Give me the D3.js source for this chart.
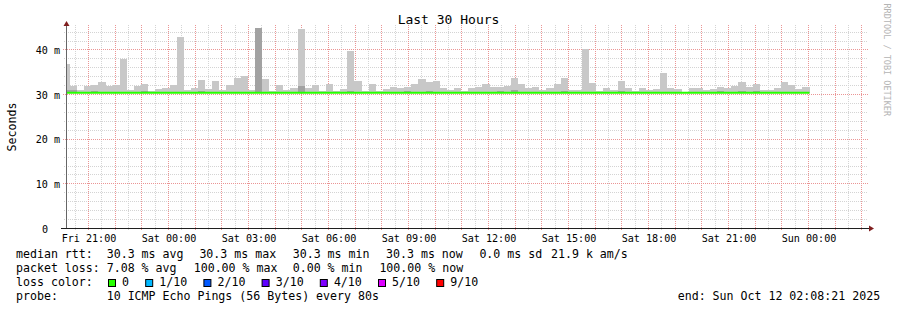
<!DOCTYPE html>
<html>
<head>
<meta charset="utf-8">
<script src="https://cdn.jsdelivr.net/npm/d3@7"></script>
<style>
  body { margin: 0; background: #fff; }
  svg { display: block; font-family: "DejaVu Sans Mono", monospace; }
</style>
</head>
<body>
<svg id="chart"></svg>
<script>
// ---- data ----
const chartTitle = "Last 30 Hours";
const yTitle = "Seconds";
const yTicks = [0, 10, 20, 30, 40];

// smoke bars, one every 16 min, first one is cut by the left edge
const barStart = new Date(2025, 9, 10, 20, 3, 30);
const barStepMin = 16;

// top of the light smoke (ms)
const smokeMax = [
  36.7, 31.9, 31.0, 31.9, 32.1, 32.7, 31.9, 32.1, 37.9, 31.0,
  31.9, 32.3, 30.6, 31.2, 31.4, 32.1, 42.7, 31.0, 31.4, 33.2,
  31.2, 33.0, 31.0, 32.1, 33.6, 34.1, 31.0, 44.7, 33.4, 30.6,
  32.1, 31.0, 31.4, 44.5, 31.4, 32.1, 30.7, 32.3, 30.6, 31.2,
  39.7, 33.0, 30.7, 32.3, 30.6, 31.2, 31.6, 31.4, 31.6, 32.3,
  33.4, 32.7, 33.0, 31.4, 31.0, 31.4, 30.7, 31.4, 31.6, 32.3,
  31.6, 31.6, 31.9, 33.6, 32.3, 31.4, 31.6, 31.0, 31.4, 32.3,
  33.6, 31.0, 31.0, 40.1, 32.5, 30.7, 31.4, 31.0, 33.0, 31.4,
  30.7, 31.4, 31.0, 31.2, 34.7, 31.4, 31.2, 30.5, 31.4, 31.4,
  31.0, 31.2, 31.6, 31.4, 31.9, 32.7, 31.6, 32.3, 31.0, 31.0,
  31.4, 32.7, 32.1, 31.2, 31.6
];

// top of the darker inner smoke (ms)
const smokeInner = [
  31.0, 31.0, 30.3, 30.3, 30.8, 30.3, 30.3, 30.3, 30.3, 30.3,
  30.3, 30.8, 30.3, 30.3, 30.3, 30.3, 30.3, 30.3, 30.3, 30.8,
  30.3, 30.3, 30.3, 30.3, 30.3, 30.3, 30.3, 44.7, 30.3, 30.3,
  30.3, 30.3, 30.3, 31.8, 30.3, 30.3, 30.3, 30.3, 30.3, 30.3,
  30.8, 30.3, 30.3, 30.3, 30.3, 30.3, 30.3, 30.3, 30.8, 30.3,
  30.3, 30.8, 30.3, 30.3, 30.3, 30.3, 30.3, 30.3, 30.3, 30.3,
  30.3, 30.8, 30.3, 31.0, 30.3, 30.3, 30.3, 30.3, 30.3, 30.3,
  30.8, 30.3, 30.3, 30.3, 30.3, 30.3, 30.3, 30.3, 30.8, 30.3,
  30.3, 30.3, 30.3, 30.3, 30.3, 30.3, 30.3, 30.3, 30.3, 30.3,
  30.3, 30.3, 30.8, 30.3, 30.3, 30.8, 30.3, 30.8, 30.3, 30.3,
  30.3, 30.3, 30.3, 30.3, 30.3
];

// median rtt (ms), all with 0 loss
const medianRtt = [
  30.3, 30.3, 30.3, 30.3, 30.3, 30.3, 30.3, 30.3, 30.3, 30.3,
  30.3, 30.3, 30.3, 30.3, 30.3, 30.3, 30.3, 30.3, 30.3, 30.3,
  30.3, 30.3, 30.3, 30.3, 30.3, 30.3, 30.3, 30.3, 30.3, 30.3,
  30.3, 30.3, 30.3, 30.3, 30.3, 30.3, 30.3, 30.3, 30.3, 30.3,
  30.3, 30.3, 30.3, 30.3, 30.3, 30.3, 30.3, 30.3, 30.3, 30.3,
  30.3, 30.3, 30.3, 30.3, 30.3, 30.3, 30.3, 30.3, 30.3, 30.3,
  30.3, 30.3, 30.3, 30.3, 30.3, 30.3, 30.3, 30.3, 30.3, 30.3,
  30.3, 30.3, 30.3, 30.3, 30.3, 30.3, 30.3, 30.3, 30.3, 30.3,
  30.3, 30.3, 30.3, 30.3, 30.3, 30.3, 30.3, 30.3, 30.3, 30.3,
  30.3, 30.3, 30.3, 30.3, 30.3, 30.3, 30.3, 30.3, 30.3, 30.3,
  30.3, 30.3, 30.3, 30.3, 30.3
];

const lossLabels = ["0", "1/10", "2/10", "3/10", "4/10", "5/10", "9/10"];
const lossColors = ["#26ff00", "#00b8ff", "#0059ff", "#5e00ff", "#7e00ff", "#dd00ff", "#ff0000"];

const rttRow = ["median rtt:", "30.3 ms avg", "30.3 ms max", "30.3 ms min", "30.3 ms now", "0.0 ms sd", "21.9 k am/s"];
const lossRow = ["packet loss:", "7.08 % avg", "100.00 % max", "0.00 % min", "100.00 % now"];
const probeText = "10 ICMP Echo Pings (56 Bytes) every 80s";
const endText = "end: Sun Oct 12 02:08:21 2025";

// ---- layout ----
let config = {
  width: 897, height: 310,
  left: 66, right: 866, top: 24, bottom: 228
};

let svg = d3.select("#chart")
  .attr("width", config.width)
  .attr("height", config.height);

svg.append("rect").attr("width", config.width).attr("height", config.height).style("fill", "#fff");

let x = d3.scaleTime()
  .domain([new Date(2025, 9, 10, 20, 10, 30), new Date(2025, 9, 12, 2, 10, 30)])
  .range([config.left, config.right]);

let y = d3.scaleLinear()
  .domain([0, 45.7])
  .range([config.bottom, config.top]);

const px = v => Math.round(v) + 0.5;

let bars = smokeMax.map((v, i) => {
  let t0 = d3.timeMinute.offset(barStart, i * barStepMin);
  return { t0: t0, t1: d3.timeMinute.offset(t0, barStepMin), max: v, inner: smokeInner[i], med: medianRtt[i] };
});

svg.append("defs").append("clipPath").attr("id", "plotclip")
  .append("rect")
  .attr("x", config.left + 1).attr("y", 0)
  .attr("width", config.right - config.left).attr("height", config.bottom);

// grid (dotted, minor grey every 30 min / 2 ms, major red every hour / 10 ms)
let grid = svg.append("g").attr("id", "grid");
const minorCol = "#d4d4d4", majorCol = "#eb9595";

let hours = d3.timeHour.range(x.domain()[0], x.domain()[1]);
let halfHours = d3.timeMinute.every(30).range(x.domain()[0], x.domain()[1]).filter(d => d.getMinutes() !== 0);

grid.selectAll("line.vminor").data(halfHours).enter().append("line")
  .attr("x1", d => px(x(d))).attr("x2", d => px(x(d)))
  .attr("y1", config.top + 1).attr("y2", config.bottom + 2)
  .style("stroke", minorCol).style("stroke-dasharray", "1,1");

let minorY = d3.range(2, 45, 2).filter(v => v % 10 !== 0);
grid.selectAll("line.hminor").data(minorY).enter().append("line")
  .attr("x1", config.left - 2).attr("x2", config.right + 2)
  .attr("y1", d => px(y(d))).attr("y2", d => px(y(d)))
  .style("stroke", minorCol).style("stroke-dasharray", "1,1");

grid.selectAll("line.vmajor").data(hours).enter().append("line")
  .attr("x1", d => px(x(d))).attr("x2", d => px(x(d)))
  .attr("y1", config.top + 1).attr("y2", config.bottom + 3)
  .style("stroke", majorCol).style("stroke-dasharray", "1,1");

grid.selectAll("line.hmajor").data(yTicks.filter(v => v > 0)).enter().append("line")
  .attr("x1", config.left - 3).attr("x2", config.right + 2)
  .attr("y1", d => px(y(d))).attr("y2", d => px(y(d)))
  .style("stroke", majorCol).style("stroke-dasharray", "1,1");

// smoke
let smoke = svg.append("g").attr("clip-path", "url(#plotclip)");
smoke.selectAll("rect.outer").data(bars).enter().append("rect")
  .attr("x", d => x(d.t0))
  .attr("width", d => x(d.t1) - x(d.t0))
  .attr("y", d => y(d.max))
  .attr("height", d => y(d.med) - y(d.max))
  .attr("shape-rendering", "crispEdges")
  .style("fill", "#c8c8c8");

smoke.selectAll("rect.inner").data(bars.filter(d => d.inner > d.med)).enter().append("rect")
  .attr("x", d => x(d.t0))
  .attr("width", d => x(d.t1) - x(d.t0))
  .attr("y", d => y(d.inner))
  .attr("height", d => y(d.med) - y(d.inner))
  .attr("shape-rendering", "crispEdges")
  .style("fill", "#a2a2a2");

// median line
let medLine = d3.line()
  .x(d => x(d.t))
  .y(d => y(d.v))
  .curve(d3.curveStepAfter);
let medPts = bars.map(d => ({ t: d.t0, v: d.med }));
medPts.push({ t: bars[bars.length - 1].t1, v: bars[bars.length - 1].med });
smoke.append("path")
  .attr("d", medLine(medPts))
  .style("fill", "none")
  .style("stroke", lossColors[0])
  .style("stroke-width", 2);

// axes
svg.append("line")
  .attr("x1", px(config.left)).attr("x2", px(config.left))
  .attr("y1", config.top + 2).attr("y2", config.bottom + 1)
  .style("stroke", "#666");
svg.append("line")
  .attr("x1", config.left - 5).attr("x2", config.right + 3)
  .attr("y1", px(config.bottom)).attr("y2", px(config.bottom))
  .style("stroke", "#1f1f1f");

svg.append("path")
  .attr("d", `M${px(config.left)},${config.top - 3} L${px(config.left) - 3},${config.top + 2} L${px(config.left) + 3},${config.top + 2} Z`)
  .style("fill", "#801f1f");
svg.append("path")
  .attr("d", `M${config.right + 8},${px(config.bottom)} L${config.right + 3},${px(config.bottom) - 3} L${config.right + 3},${px(config.bottom) + 3} Z`)
  .style("fill", "#801f1f");

// x tick labels
let xaxis = d3.axisBottom(x)
  .tickValues(d3.timeHour.every(3).range(x.domain()[0], x.domain()[1]))
  .tickFormat(d3.timeFormat("%a %H:%M"))
  .tickSize(0)
  .tickPadding(0);
let gx = svg.append("g")
  .attr("transform", `translate(0.5, ${config.bottom})`)
  .call(xaxis);
gx.select(".domain").remove();
gx.selectAll("text")
  .attr("y", 13.5).attr("dy", null)
  .style("font-family", "DejaVu Sans Mono")
  .style("font-size", "10.1px")
  .style("fill", "#000");

// y tick labels
let yaxis = d3.axisLeft(y)
  .tickValues(yTicks)
  .tickFormat(d => d === 0 ? "0" : d + " m")
  .tickSize(0)
  .tickPadding(0);
let gy = svg.append("g")
  .attr("transform", `translate(60, 0.5)`)
  .call(yaxis);
gy.select(".domain").remove();
gy.selectAll("text")
  .attr("dy", "0.35em")
  .attr("x", d => d === 0 ? -12 : 0)
  .style("font-family", "DejaVu Sans Mono")
  .style("font-size", "10.1px")
  .style("fill", "#000");

// titles
svg.append("text")
  .attr("x", 448.5).attr("y", 23.5)
  .attr("text-anchor", "middle")
  .style("font-size", "13px")
  .text(chartTitle);

svg.append("text")
  .attr("transform", "translate(15.5, 127) rotate(-90)")
  .attr("text-anchor", "middle")
  .style("font-size", "11.6px")
  .text(yTitle);

svg.append("text")
  .attr("transform", "translate(884, 3.5) rotate(90)")
  .style("font-size", "8.5px")
  .style("fill", "#b4b4b4")
  .text("RRDTOOL / TOBI OETIKER");

// legend
let legend = svg.append("g").style("font-size", "11.6px");
const rttX = [16, 106.7, 199.4, 292.7, 386, 479.4, 551];
const lossX = [16, 106.7, 193.7, 292.7, 379.4];
legend.selectAll("text.rtt").data(rttRow).enter().append("text")
  .attr("x", (d, i) => rttX[i]).attr("y", 258).text(d => d);
legend.selectAll("text.loss").data(lossRow).enter().append("text")
  .attr("x", (d, i) => lossX[i]).attr("y", 272).text(d => d);

legend.append("text").attr("x", 16).attr("y", 286).text("loss color:");
let bx = 108.5;
lossLabels.forEach((lab, i) => {
  legend.append("rect")
    .attr("x", bx).attr("y", 279.5).attr("width", 7).attr("height", 7)
    .style("fill", lossColors[i]).style("stroke", "#000");
  legend.append("text").attr("x", bx + 13.6).attr("y", 286).text(lab);
  bx += 14 + lab.length * 7 + 16.2;
});

legend.append("text").attr("x", 16).attr("y", 300).text("probe:");
legend.append("text").attr("x", 106.7).attr("y", 300).text(probeText);
legend.append("text").attr("x", 677.7).attr("y", 300).text(endText);
</script>
</body>
</html>
